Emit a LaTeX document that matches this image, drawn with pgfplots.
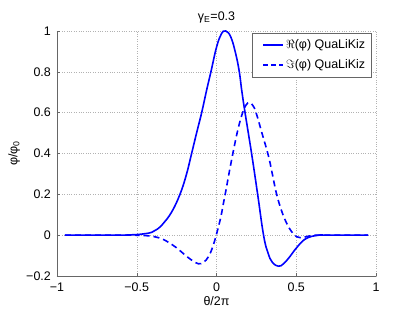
\documentclass[border=0pt]{standalone}
\usepackage{fontspec}
\setmainfont{Liberation Sans}
\usepackage{pgfplots}
\pgfplotsset{compat=1.18}
\begin{document}
\fontsize{12}{14}\selectfont
\begin{tikzpicture}
\useasboundingbox (-57bp,-36bp) rectangle (358bp,276bp);
\begin{axis}[
  at={(0,0)}, anchor=south west,
  scale only axis, width=319bp, height=245bp,
  xmin=-1, xmax=1, ymin=-0.2, ymax=1,
  axis x line*=bottom, axis y line*=left,
  axis line style={draw=black!60, line width=0.5pt, -},
  xtick={-1,-0.5,0,0.5,1},
  xticklabels={−1,−0.5,0,0.5,1},
  ytick={-0.2,0,0.2,0.4,0.6,0.8,1},
  yticklabels={−0.2,0,0.2,0.4,0.6,0.8,1},
  tick align=inside, major tick length=3bp,
  tick style={draw=black!60, line width=0.5pt},
  ticklabel style={font=\fontsize{12.5}{14}\selectfont, text=black},
  xticklabel style={yshift=-3bp},
  yticklabel style={xshift=-2bp},
  grid=major,
  grid style={dotted, draw=black!30, line width=0.5pt},
  title={γ\textsubscript{E}=0.3},
  title style={font=\fontsize{12.5}{14}\selectfont, yshift=-2bp},
  xlabel={θ/2π}, ylabel={φ/φ\textsubscript{0}},
  label style={font=\fontsize{12.5}{14}\selectfont},
  xlabel style={yshift=4bp},
  ylabel style={yshift=-2bp},
  legend style={at={(1,1)}, anchor=north east, xshift=-5bp, yshift=-2bp,
    draw=none, fill=white, font=\fontsize{12.5}{14}\selectfont,
    inner xsep=3bp, inner ysep=4bp, row sep=5bp,
    nodes={line width=1.6pt}},
  legend cell align=left,
  every axis legend/.append style={line width=1.6pt},
]
\addplot[draw=blue, line width=1.6pt, smooth, tension=0.7,
  legend image code/.code={\path[draw=blue, line width=1.6pt, solid] (0cm,0cm) -- (0.72cm,0cm);}] coordinates {
(-0.95,0) (-0.6,0.0005) (-0.55,0.001) (-0.5,0.003) (-0.45,0.007) (-0.406,0.014)
(-0.37,0.03) (-0.333,0.058) (-0.28,0.115) (-0.229,0.2) (-0.19,0.293)
(-0.156,0.4) (-0.125,0.5) (-0.093,0.6) (-0.062,0.71) (-0.035,0.8)
(0,0.92) (0.03,0.985) (0.058,1.0) (0.09,0.97) (0.12,0.89) (0.143,0.8)
(0.158,0.71) (0.179,0.6) (0.22,0.4) (0.258,0.2) (0.295,0) (0.322,-0.085)
(0.35,-0.133) (0.388,-0.152) (0.42,-0.14) (0.46,-0.105) (0.49,-0.073)
(0.52,-0.045) (0.55,-0.022) (0.6,-0.005) (0.65,0.001) (0.7,0) (0.95,0)
};
\addlegendentry{$\Re$(φ) QuaLiKiz}
\addplot[draw=blue, line width=1.6pt, dash pattern=on 6bp off 4bp, smooth, tension=0.7,
  legend image code/.code={\path[draw=blue, line width=1.6pt, dash pattern=on 5bp off 3bp] (0cm,0cm) -- (0.72cm,0cm);}] coordinates {
(-0.95,0) (-0.55,0) (-0.5,-0.001) (-0.42,-0.004) (-0.35,-0.016) (-0.29,-0.04)
(-0.25,-0.062) (-0.208,-0.09) (-0.16,-0.12) (-0.114,-0.14) (-0.08,-0.132)
(-0.051,-0.106) (-0.025,-0.06) (0,0.005) (0.026,0.085) (0.042,0.15)
(0.058,0.215) (0.085,0.33) (0.105,0.41) (0.135,0.52) (0.164,0.6)
(0.185,0.637) (0.206,0.65) (0.228,0.635) (0.248,0.6) (0.285,0.5)
(0.325,0.39) (0.35,0.3) (0.377,0.2) (0.41,0.115) (0.44,0.058) (0.47,0.018)
(0.503,-0.008) (0.53,-0.013) (0.57,-0.006) (0.62,0) (0.7,0) (0.95,0)
};
\addlegendentry{$\Im$(φ) QuaLiKiz}
\fill[white] (axis description cs:0.611,0.812) rectangle (axis description cs:0.984,0.992);
\end{axis}
\draw[black!60, line width=0.5pt] (195bp,199bp) rectangle (314bp,243bp);
\end{tikzpicture}
\end{document}
